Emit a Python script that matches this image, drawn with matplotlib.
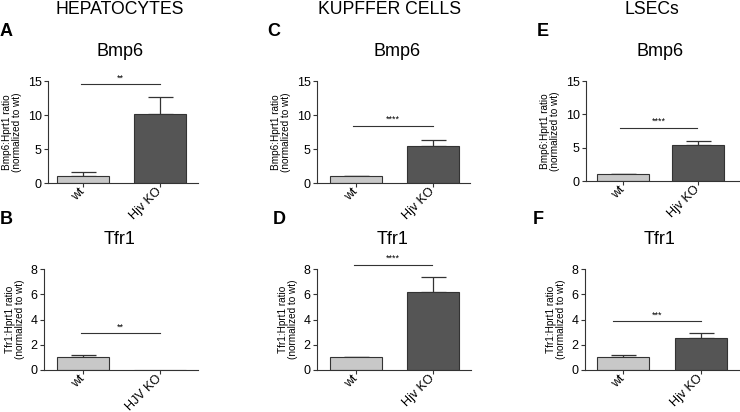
import matplotlib.pyplot as plt

plt.rcParams['font.family'] = ['Liberation Sans', 'DejaVu Sans']

groups = ['wt', 'Hjv KO']
groups_b = ['wt', 'HJV KO']

# mean values, upper error (SEM) tops
bmp6_hep = [1.0, 10.1]
bmp6_hep_err = [0.6, 2.5]
tfr1_hep = [1.0, 0.02]
tfr1_hep_err = [0.2, 0.0]
bmp6_kc = [1.0, 5.5]
bmp6_kc_err = [0.05, 0.8]
tfr1_kc = [1.0, 6.2]
tfr1_kc_err = [0.05, 1.2]
bmp6_lsec = [1.0, 5.4]
bmp6_lsec_err = [0.1, 0.6]
tfr1_lsec = [1.0, 2.5]
tfr1_lsec_err = [0.17, 0.4]

sig_levels = [14.5, 2.9, 8.4, 8.3, 7.95, 3.85]
sig_marks = ['**', '**', '****', '****', '****', '***']

W, H = 740, 412
fig = plt.figure(figsize=(W / 100, H / 100), dpi=100)

wt_color = '#c8c8c8'
ko_color = '#555555'


def panel(px_left, px_right, px_top, px_bottom, c0, c1, values, errs, labels,
          ymax, yticks, ylabel, title, title_x, letter, letter_x, sig_y, sig_txt,
          sig_x0, sig_x1):
    ax = fig.add_axes([px_left / W, 1 - px_bottom / H,
                       (px_right - px_left) / W, (px_bottom - px_top) / H])
    spacing = c1 - c0
    ax.set_xlim(-(c0 - px_left) / spacing, 1 + (px_right - c1) / spacing)
    ax.set_ylim(0, ymax)
    ax.bar([0, 1], values, width=52 / spacing, color=[wt_color, ko_color],
           edgecolor='#333333', linewidth=0.8, zorder=2)
    for i in range(2):
        if errs[i] > 0:
            ax.errorbar(i, values[i], yerr=[[0], [errs[i]]], color='#333333',
                        elinewidth=0.9, capsize=9, capthick=0.9, zorder=1)
    ax.spines['top'].set_visible(False)
    ax.spines['right'].set_visible(False)
    for s in ('left', 'bottom'):
        ax.spines[s].set_linewidth(0.8)
        ax.spines[s].set_color('#333333')
    ax.set_yticks(yticks)
    ax.set_xticks([0, 1])
    ax.set_xticklabels(labels, rotation=45, ha='right', va='center',
                       rotation_mode='anchor', fontsize=7.4)
    ax.tick_params(axis='both', length=3, width=0.8, color='#333333',
                   labelsize=9, pad=1.5)
    ax.tick_params(axis='x', pad=2.2)
    ax.set_ylabel(ylabel, fontsize=7.2, labelpad=4, linespacing=1.05)
    x0 = (sig_x0 - c0) / spacing
    x1 = (sig_x1 - c0) / spacing
    ax.plot([x0, x1], [sig_y, sig_y], color='#333333', lw=0.8, clip_on=False)
    ax.text((x0 + x1) / 2, sig_y + ymax * 0.02, sig_txt, ha='center',
            va='bottom', fontsize=6.5, clip_on=False)
    fig.text(title_x / W, 1 - (px_top - 29) / H, title, ha='center',
             va='center', fontsize=13)
    fig.text(letter_x / W, 1 - (px_top - 50) / H, letter, ha='left',
             va='center', fontsize=13, fontweight='bold')
    return ax


bmp_label = 'Bmp6:Hprt1 ratio\n(normalized to wt)'
tfr_label = 'Tfr1:Hprt1 ratio\n(normalized to wt)'

panel(48, 198, 81, 183, 83, 160, bmp6_hep, bmp6_hep_err, groups, 15,
      [0, 5, 10, 15], bmp_label, 'Bmp6', 120, 'A', 0, sig_levels[0], sig_marks[0], 81, 160)
panel(44, 198, 269, 370, 83, 160, tfr1_hep, tfr1_hep_err, groups_b, 8,
      [0, 2, 4, 6, 8], tfr_label, 'Tfr1', 120, 'B', 0, sig_levels[1], sig_marks[1], 81, 160)
panel(317, 470, 81, 183, 356, 433, bmp6_kc, bmp6_kc_err, groups, 15,
      [0, 5, 10, 15], bmp_label, 'Bmp6', 397, 'C', 267, sig_levels[2], sig_marks[2], 353, 433)
panel(317, 471, 269, 370, 356, 433, tfr1_kc, tfr1_kc_err, groups, 8,
      [0, 2, 4, 6, 8], tfr_label, 'Tfr1', 393, 'D', 273, sig_levels[3], sig_marks[3], 354, 432)
panel(586, 740, 81, 181, 623, 698, bmp6_lsec, bmp6_lsec_err, groups, 15,
      [0, 5, 10, 15], bmp_label, 'Bmp6', 660, 'E', 537, sig_levels[4], sig_marks[4], 620, 697)
panel(585, 740, 269, 370, 623, 701, tfr1_lsec, tfr1_lsec_err, groups, 8,
      [0, 2, 4, 6, 8], tfr_label, 'Tfr1', 660, 'F', 533, sig_levels[5], sig_marks[5], 613, 701)

for x, txt in [(120, 'HEPATOCYTES'), (390, 'KUPFFER CELLS'), (652, 'LSECs')]:
    fig.text(x / W, 1 - 9 / H, txt, ha='center', va='center', fontsize=12.7)

fig.savefig('out.png', dpi=100)
